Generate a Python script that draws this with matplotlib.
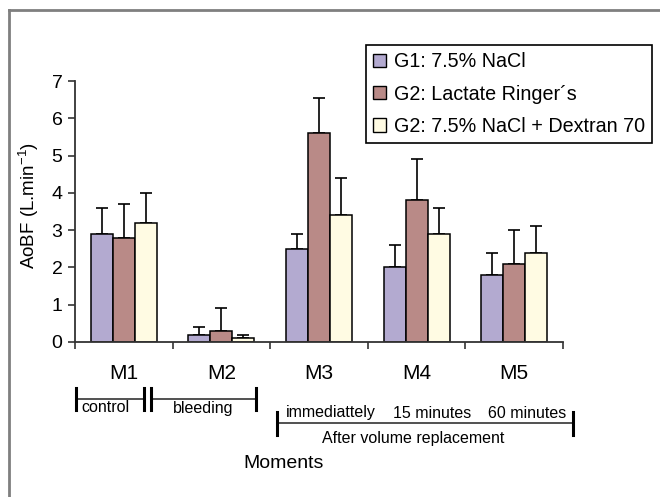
import matplotlib
matplotlib.use("Agg")
import matplotlib.pyplot as plt
import numpy as np
from matplotlib.lines import Line2D
from matplotlib.patches import Patch

plt.rcParams['font.family'] = ['Liberation Sans', 'DejaVu Sans']
plt.rcParams['mathtext.fontset'] = 'custom'
plt.rcParams['mathtext.rm'] = 'Liberation Sans'
plt.rcParams['mathtext.it'] = 'Liberation Sans:italic'

categories = ["M1", "M2", "M3", "M4", "M5"]
series_names = ["G1: 7.5% NaCl", "G2: Lactate Ringer\u00b4s", "G2: 7.5% NaCl + Dextran 70"]
g1_mean = [2.9, 0.2, 2.5, 2.0, 1.8]
g1_err = [0.7, 0.2, 0.4, 0.6, 0.6]
g2_mean = [2.8, 0.3, 5.6, 3.8, 2.1]
g2_err = [0.9, 0.6, 0.95, 1.1, 0.9]
g3_mean = [3.2, 0.1, 3.4, 2.9, 2.4]
g3_err = [0.8, 0.1, 1.0, 0.7, 0.7]
colors = ["#B3AAD0", "#B98A87", "#FFFBE3"]
yticks = [0, 1, 2, 3, 4, 5, 6, 7]

W, H = 660, 497
fig = plt.figure(figsize=(W / 100, H / 100), dpi=100)

def fx(px):
    return px / W

def fy(py):
    return 1 - py / H

ax = fig.add_axes([fx(75), fy(342), fx(563) - fx(75), fy(81) - fy(342)])

means = [g1_mean, g2_mean, g3_mean]
errs = [g1_err, g2_err, g3_err]
bw = 0.225
x = np.arange(len(categories)) + 0.5
for i in range(3):
    pos = x + (i - 1) * bw
    ax.bar(pos, means[i], width=bw, color=colors[i], edgecolor="black",
           linewidth=1.1, zorder=2)
    ax.errorbar(pos, means[i], yerr=[np.zeros(len(errs[i])), errs[i]],
                fmt="none", ecolor="black", elinewidth=1.2, capsize=4,
                capthick=1.2, zorder=1)

ax.set_xlim(0, 5)
ax.set_ylim(0, 7)
ax.set_yticks(yticks)
ax.set_yticklabels([str(v) for v in yticks], fontsize=14)
ax.set_xticks(np.arange(0, 6))
ax.set_xticklabels([])
ax.set_xticks(x, minor=True)
ax.set_xticklabels(categories, minor=True, fontsize=15)
ax.tick_params(axis="x", which="minor", length=0, pad=16)
ax.tick_params(axis="x", which="major", length=5, width=1.2, direction="out", color="#333333")
ax.tick_params(axis="y", length=5, width=1.2, direction="out", color="#333333", pad=4)
for s in ["top", "right"]:
    ax.spines[s].set_visible(False)
for s in ["left", "bottom"]:
    ax.spines[s].set_color("#333333")
    ax.spines[s].set_linewidth(1.3)

fig.text(fx(29), fy(206), "AoBF (L.min$^{-1}$)", rotation=90, ha="center",
         va="center", fontsize=13.5)
fig.text(fx(284), fy(464), "Moments", ha="center", va="center", fontsize=14)

# legend
handles = [Patch(facecolor=c, edgecolor="black", linewidth=1.0) for c in colors]
leg = fig.legend(handles, series_names, loc="upper left",
                 bbox_to_anchor=(fx(366), fy(45)), borderaxespad=0,
                 fontsize=14.2, handlelength=0.65, handleheight=0.65,
                 handletextpad=0.4, labelspacing=0.68, borderpad=0.36,
                 fancybox=False, framealpha=1)
leg.get_frame().set_edgecolor("black")
leg.get_frame().set_linewidth(1.2)

# outer gray frame (left and top edges visible)
fig.add_artist(Line2D([fx(9), fx(9)], [fy(10), fy(520)], color="#7f7f7f", lw=2))
fig.add_artist(Line2D([fx(9), fx(680)], [fy(10), fy(10)], color="#7f7f7f", lw=2))

# annotation brackets
def hline(x0, x1, y, lw=1.2):
    fig.add_artist(Line2D([fx(x0), fx(x1)], [fy(y), fy(y)], color="#333333", lw=lw))

def vline(xp, y0, y1, lw=2.2):
    fig.add_artist(Line2D([fx(xp), fx(xp)], [fy(y0), fy(y1)], color="black", lw=lw))

hline(76, 144, 399)
vline(76, 388, 410)
vline(144, 388, 410)
hline(151, 256, 399)
vline(151, 388, 410)
vline(256, 388, 410)
fig.text(fx(105), fy(408), "control", ha="center", va="center", fontsize=11.5)
fig.text(fx(203), fy(408), "bleeding", ha="center", va="center", fontsize=11.5)

hline(277, 573, 423)
vline(277, 412, 435)
vline(573, 412, 435)
fig.text(fx(331), fy(413), "immediattely", ha="center", va="center", fontsize=11.5)
fig.text(fx(432), fy(413), "15 minutes", ha="center", va="center", fontsize=11.5)
fig.text(fx(527), fy(413), "60 minutes", ha="center", va="center", fontsize=11.5)
fig.text(fx(413), fy(438), "After volume replacement", ha="center", va="center", fontsize=11.5)

fig.savefig("out.png", dpi=100)
